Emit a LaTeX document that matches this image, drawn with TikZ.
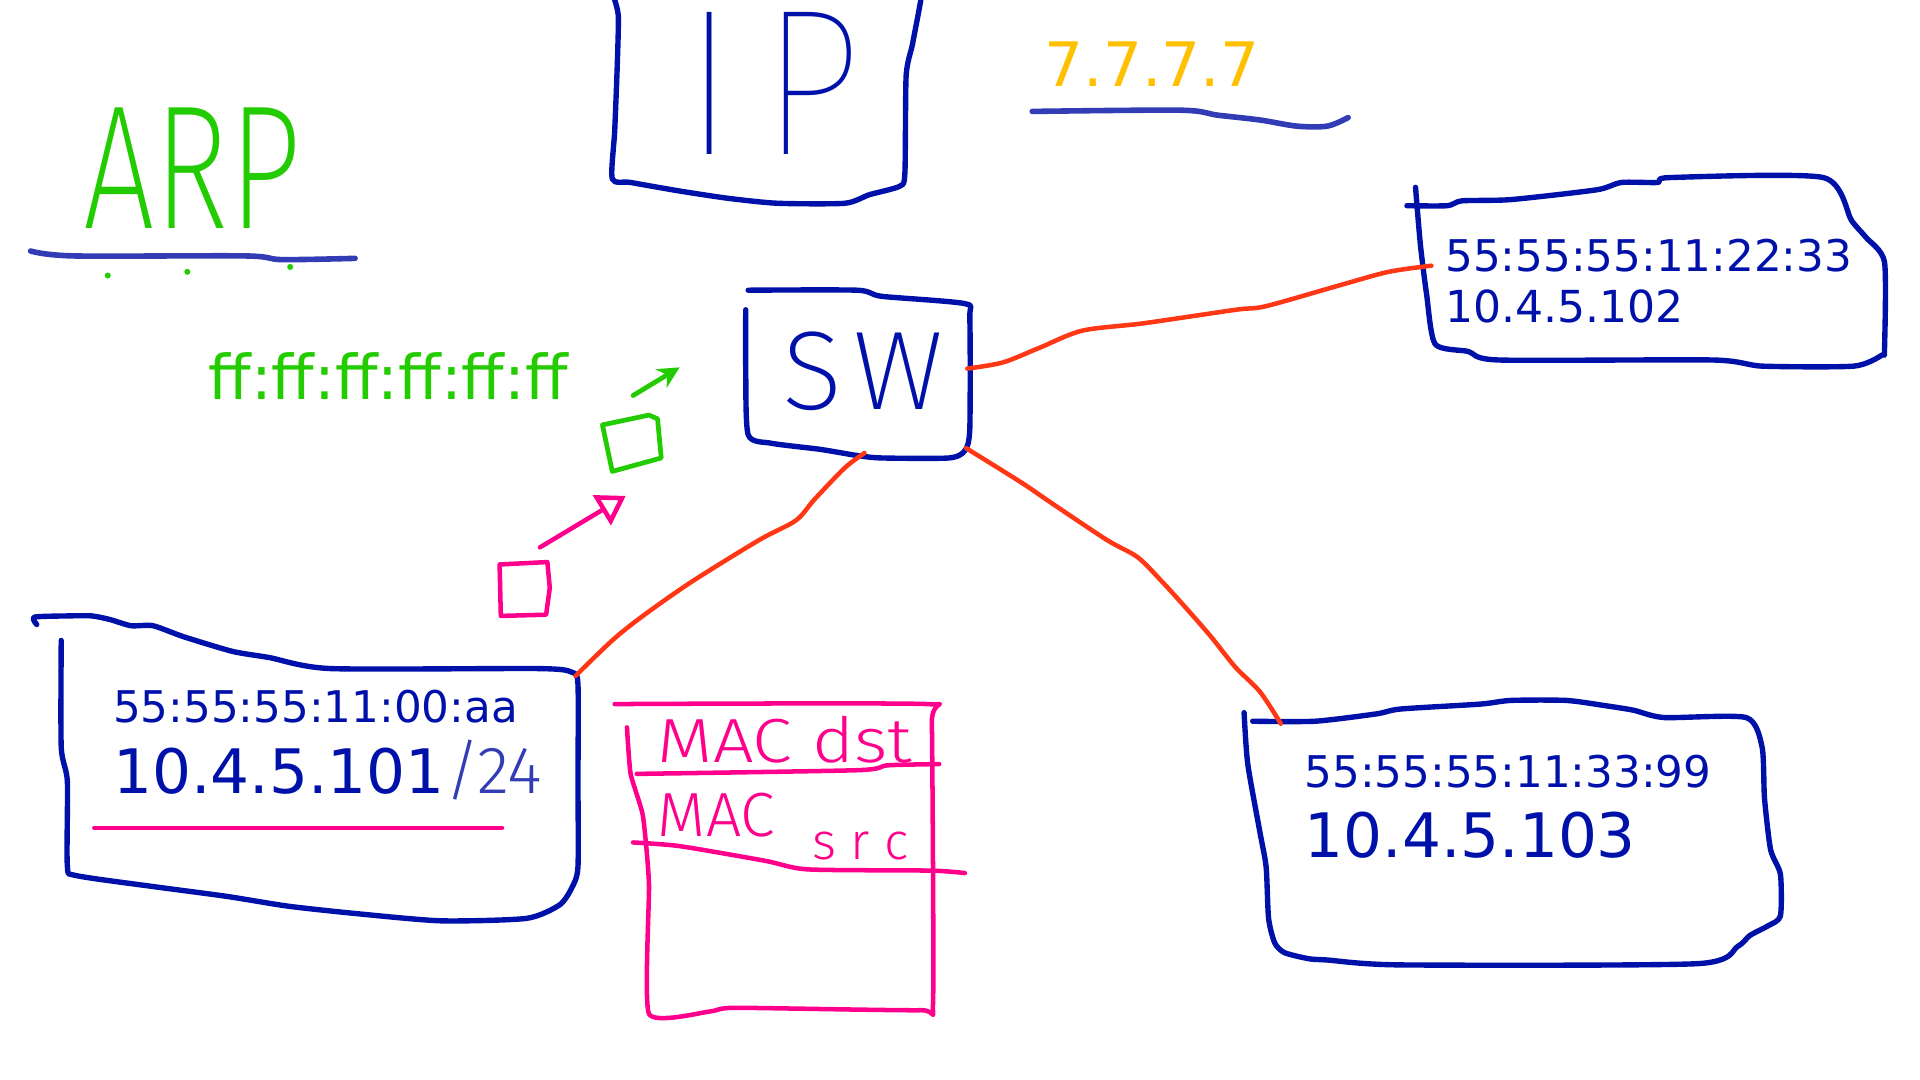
\documentclass[tikz,border=0pt]{standalone}
\usepackage{fontspec}
\usepackage{graphicx}
\setmainfont{DejaVu Sans}
\newfontfamily\penhair{Fira Sans Thin}
\newfontfamily\penthin{Fira Sans ExtraLight}
\newfontfamily\penlight{Fira Sans Light}
\usetikzlibrary{positioning,arrows.meta}
\definecolor{penblue}{RGB}{0,17,170}
\definecolor{inkblue}{RGB}{50,60,180}
\definecolor{pengreen}{RGB}{34,204,0}
\definecolor{penpink}{RGB}{255,0,140}
\definecolor{penred}{RGB}{255,55,20}
\definecolor{penyellow}{RGB}{255,192,0}
\tikzset{pen/.style={line width=#1, line cap=round, line join=round}, pen/.default=2.5pt}
\tikzset{hostbox/.style={pen, draw=penblue}}
\tikzset{underline/.style={pen=2.6pt, draw=inkblue}}
\tikzset{cable/.style={pen=2.1pt, draw=penred}}
\tikzset{frame/.style={pen=2.1pt, draw=penpink}}
\tikzset{addr/.style={anchor=base west, inner sep=0, text=penblue}}
\tikzset{scribble/.style={inner sep=0}}
\newcommand\macsize{\fontsize{20.3}{24}\selectfont}
\newcommand\ipsize{\fontsize{28.5}{32}\selectfont}

\begin{document}
\begin{tikzpicture}[x=0.02cm, y=-0.02cm]
\useasboundingbox (0,0) rectangle (1568,882);

% heading
\node[scribble, text=pengreen, font=\penthin\fontsize{82}{90}\selectfont] (arp) at (157,137) {\scalebox{0.72}[1]{ARP}};
\draw[underline] plot[smooth, tension=0.5] coordinates {(25,205) (60,209) (200,209) (230,212) (290,211)};
\foreach \x/\y in {88/225, 153/222, 237/218}
  \fill[pengreen] (\x,\y) circle (1.4pt);

\draw[hostbox] plot[smooth, tension=0.4] coordinates {(502,0) (505,14) (504,56) (502,107) (500,146) (515,149) (555,156) (595,162) (635,166) (690,166) (710,159) (735,152) (739,141) (740,62) (745,37) (750,11) (752,0)};
\node[scribble, text=penblue, font=\penhair\fontsize{97}{100}\selectfont] (ip) at (630,68) {I\kern0.12em\scalebox{0.85}[1]{P}};

\node[addr, text=penyellow, font=\fontsize{28.5}{32}\selectfont] (dest) at (853,71) {7.7.7.7};
\draw[underline] plot[smooth, tension=0.5] coordinates {(843,91) (964,90) (994,94) (1029,98) (1059,103) (1084,103) (1101,96)};

% switch
\draw[hostbox] plot[smooth, tension=0.4] coordinates {(611,237) (700,237) (720,242) (788,248) (792,260) (792,350) (788,368) (775,374) (720,374) (700,372) (670,367) (630,362) (611,355) (609,300) (609,253)};
\node[scribble, text=penblue, font=\penthin\fontsize{52}{56}\selectfont] (sw) at (705,303) {S\kern0.1em W};
\coordinate (swE) at (790,301);
\coordinate (swS) at (706,370);
\coordinate (swSE) at (789,366);

% hosts
\draw[hostbox] plot[smooth, tension=0.4] coordinates {(30,510) (28,504) (55,503) (75,503) (90,506) (107,511) (125,511) (150,520) (190,532) (220,537) (270,546) (440,546) (467,549) (472,559) (472,638) (472,708) (467,725) (457,739) (430,750) (360,752) (290,746) (235,740) (185,732) (125,724) (62,715) (55,707) (55,638) (50,610) (50,523)};
\node[addr, font=\macsize] (h1mac) at (92,590) {55:55:55:11:00:aa};
\node[addr, font=\ipsize] (h1ip) at (92,648) {10.4.5.101};
\node[addr, text=inkblue, font=\penlight\fontsize{31}{34}\selectfont] (h1mask) at (h1ip.base east) {/24};
\draw[frame] (77,676) -- (410,676);
\coordinate (h1port) at (470,552);

\draw[hostbox] plot[smooth, tension=0.4] coordinates {(1149,168) (1182,168) (1194,164) (1234,163) (1304,155) (1324,149) (1354,149) (1364,145) (1489,145) (1512,180) (1524,194) (1539,214) (1539,285) (1537,290) (1514,299) (1439,299) (1399,294) (1224,294) (1199,287) (1172,281) (1165,240) (1160,200) (1156,153)};
\node[addr, font=\macsize] (h2mac) at (1180,222) {55:55:55:11:22:33};
\node[addr, font=\fontsize{20.5}{24}\selectfont] (h2ip) at (1180,263) {10.4.5.102};
\coordinate (h2port) at (1169,217);

\draw[hostbox] plot[smooth, tension=0.4] coordinates {(1023,589) (1074,589) (1124,583) (1144,579) (1209,575) (1234,572) (1279,572) (1309,576) (1334,580) (1359,586) (1426,586) (1439,610) (1441,652) (1446,694) (1454,714) (1454,748) (1444,756) (1429,764) (1419,773) (1386,787) (1144,788) (1084,784) (1069,783) (1049,778) (1041,770) (1036,750) (1034,708) (1029,680) (1019,624) (1016,582)};
\node[addr, font=\macsize] (h3mac) at (1065,643) {55:55:55:11:33:99};
\node[addr, font=\ipsize] (h3ip) at (1065,700) {10.4.5.103};
\coordinate (h3port) at (1046,591);

% cables
\draw[cable] plot[smooth, tension=0.5] coordinates {(swE) (819,296) (849,284) (884,270) (934,264) (1009,253) (1034,250) (1094,233) (1134,222) (h2port)};
\draw[cable] plot[smooth, tension=0.5] coordinates {(swS) (690,382) (665,408) (650,425) (620,441) (565,475) (525,503) (500,523) (h1port)};
\draw[cable] plot[smooth, tension=0.5] coordinates {(swSE) (834,394) (859,411) (904,441) (929,455) (949,475) (969,497) (989,520) (1009,545) (1029,565) (h3port)};

% frames on the way
\draw[frame] (408,461) -- (447,459) -- (449,480) -- (446,502) -- (409,503) -- cycle;
\coordinate (pinktail) at (441,447);
\coordinate (pinkhead) at (511,405);
\draw[frame, -{Triangle[open, length=13pt, width=16pt]}] (pinktail) -- (pinkhead);
\draw[pen=2.2pt, draw=pengreen] (492,347) -- (530,339) -- (537,342) -- (540,374) -- (500,385) -- cycle;
\coordinate (greentail) at (517,323);
\coordinate (greenhead) at (555,300);
\draw[pen=2.2pt, draw=pengreen, -{Stealth[length=10pt, width=10pt]}] (greentail) -- (greenhead);
\node[addr, text=pengreen, font=\fontsize{28.7}{32}\selectfont] (bcast) at (170,326) {ff:ff:ff:ff:ff:ff};

% ethernet header
\draw[frame] plot[smooth, tension=0.3] coordinates {(502,575) (757,575) (761,590) (762,818) (752,825) (600,823) (580,826) (530,828) (530,722) (525,666) (515,632) (512,594)};
\draw[frame] plot[smooth, tension=0.4] coordinates {(520,632) (700,629) (725,625) (767,624)};
\draw[frame] plot[smooth, tension=0.4] coordinates {(517,688) (555,691) (625,703) (660,710) (760,711) (788,713)};
\node[scribble, text=penpink, font=\penlight\fontsize{29}{32}\selectfont] (macdst) at (641,604) {\scalebox{1.15}[1]{MAC dst}};
\node[addr, text=penpink, font=\penlight\fontsize{29}{32}\selectfont] (macsrc) at (537,683) {MAC\hspace{0.6em}\raisebox{-0.7ex}{\fontsize{24}{26}\selectfont s r c}};
\end{tikzpicture}
\end{document}
